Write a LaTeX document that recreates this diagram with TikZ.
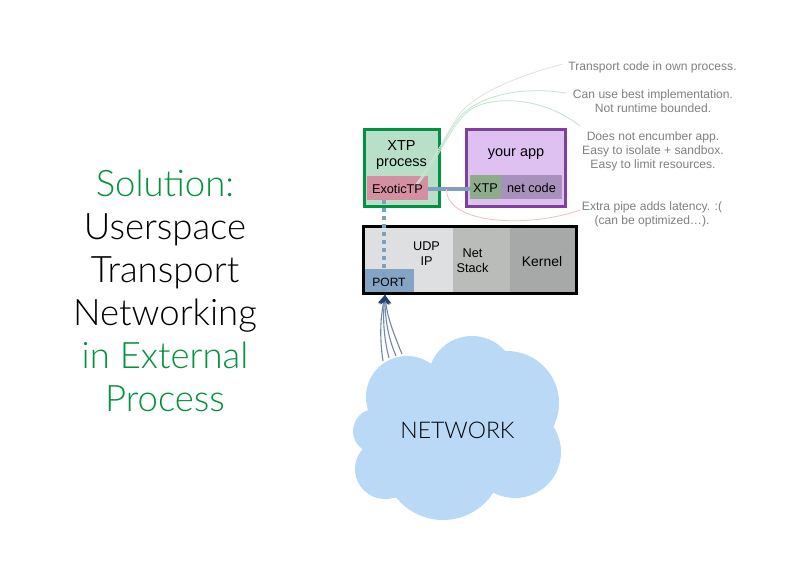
\documentclass[tikz,border=0pt]{standalone}
\usepackage{fontspec}
\setmainfont{Liberation Sans}
\newfontfamily\lightf{Lato}[UprightFont=* Light]
\usetikzlibrary{arrows.meta}
\definecolor{grn}{HTML}{00923F}
\definecolor{pur}{HTML}{7E3F9D}
\definecolor{cloudc}{HTML}{B9D9F7}
\definecolor{pipe}{HTML}{7F9FBF}
\definecolor{graytxt}{HTML}{808080}
\tikzset{x=1pt,y=-1pt,
  lbl/.style={inner sep=0,align=center,text=black,font=\fontsize{14.5}{16}\selectfont},
  sml/.style={inner sep=0,align=center,text=black,font=\fontsize{12.7}{15}\selectfont},
  note/.style={inner sep=0,align=center,text=graytxt,font=\fontsize{12.1}{14}\selectfont},
  head/.style={inner sep=0,align=center,font=\lightf\fontsize{36.5}{43}\selectfont},
  lead/.style={line width=.8pt},
}
\begin{document}
\begin{tikzpicture}
\useasboundingbox (0,0) rectangle (790,570);
\fill[white] (0,0) rectangle (790,570);
% heading
\node[head] (title) at (165,291) {\textcolor{grn}{Solution:}\\Userspace\\Transport\\Networking\\\textcolor{grn}{in External}\\\textcolor{grn}{Process}};
% cloud
\fill[cloudc] (407,397) circle (41) (472,380) circle (44) (507,403) circle (52)
 (515,452) circle (46) (443,460) circle (60) (385,469) circle (30) (375,431) circle (22)
 (432,363) -- (507,351) -- (551,427) -- (493,493) -- (393,498) -- (363,449) -- (370,408) -- cycle;
\node[inner sep=0,font=\lightf\fontsize{23}{26}\selectfont] (network) at (457.5,430.5) {NETWORK};
% xtp process
\draw[grn,line width=3pt,fill=grn!28!white] (364,129.5) rectangle (439.5,206.5);
\node[lbl] (xtpl) at (401.5,155) {XTP\\process};
\fill[fill={rgb,255:red,212;green,143;blue,162}] (367,176) rectangle (428,200);
\coordinate (etp) at (428,188.5);
\node[sml] (exotic) at (397.5,188.5) {ExoticTP};
% app
\draw[pur,line width=3pt,fill={rgb,255:red,222;green,193;blue,240}] (466.5,129.5) rectangle (565.5,206.5);
\node[lbl] (app) at (516,154.5) {your app};
\fill[fill={rgb,255:red,141;green,172;blue,140}] (470,175) rectangle (501,198.5);
\fill[fill={rgb,255:red,168;green,145;blue,186}] (501,175) rectangle (562,198.5);
\node[sml] (xtpin) at (485.5,188) {XTP};
\node[sml] (netcode) at (531.5,188) {net code};
\coordinate (xtpedge) at (470,188.5);
\draw[pipe,line width=4pt] (etp) -- (xtpedge);
% kernel
\fill[fill={rgb,255:red,222;green,223;blue,225}] (364,227) rectangle (453,293);
\fill[fill={rgb,255:red,186;green,188;blue,186}] (453,227) rectangle (510,293);
\fill[fill={rgb,255:red,166;green,169;blue,167}] (510,227) rectangle (576,293);
\fill[fill={rgb,255:red,131;green,164;blue,194}] (365,269) rectangle (413.5,293);
\draw[black,line width=3pt] (363.5,226) rectangle (576.5,293.5);
\node[sml] (udp) at (426.5,253.5) {UDP\\IP};
\node[sml] (net) at (472.5,261) {Net\\Stack};
\node[sml,font=\fontsize{13.9}{16}\selectfont] (kern) at (542,261.5) {Kernel};
% dotted pipe
\coordinate (dtop) at (384,200);
\coordinate (dbot) at (384,294);
\draw[pipe,line width=4pt,dash pattern=on 4pt off 4pt] (dtop) -- (dbot);
\node[sml,font=\fontsize{12}{14}\selectfont] (port) at (389,282) {PORT};
% network arrows
\coordinate (a1) at (383,361);
\coordinate (a2) at (389,358);
\coordinate (a3) at (396,356);
\coordinate (a4) at (402,354);
\coordinate (pt) at (385,295);
\tikzset{netarrow/.style={color={rgb,255:red,112;green,136;blue,168},line width=1.1pt,-{Stealth[length=9pt,width=11pt,color={rgb,255:red,36;green,66;blue,110}]}}}
\draw[netarrow] (a1) .. controls (379,335) and (381,315) .. (pt);
\draw[netarrow] (a2) .. controls (383,335) and (383,315) .. (pt);
\draw[netarrow] (a3) .. controls (387,335) and (385,315) .. (pt);
\draw[netarrow] (a4) .. controls (392,330) and (387,315) .. (pt);
% notes
\node[note] (n1) at (652.5,67) {Transport code in own process.};
\node[note] (n2) at (653,101.5) {Can use best implementation.\\Not runtime bounded.};
\node[note] (n3) at (653,151.5) {Does not encumber app.\\Easy to isolate + sandbox.\\Easy to limit resources.};
\node[note] (n4) at (652,214) {Extra pipe adds latency. :(\\(can be optimized…).};
\coordinate (c1) at (563,64);
\coordinate (c2) at (566,93);
\coordinate (c3) at (580,126);
\coordinate (c4) at (580,210);
\coordinate (s1) at (416,184);
\coordinate (s2) at (417,184);
\coordinate (s3) at (418,184);
\coordinate (s4) at (446.5,189);
\draw[lead,color={rgb,255:red,222;green,226;blue,222}] (s1) .. controls (435,160) and (450,125) .. (463,110) .. controls (480,92) and (520,75) .. (c1);
\draw[lead,color={rgb,255:red,190;green,230;blue,205}] (s2) .. controls (437,160) and (445,135) .. (460,117) .. controls (475,99) and (515,85) .. (c2);
\draw[lead,color={rgb,255:red,190;green,230;blue,205}] (s3) .. controls (440,158) and (450,125) .. (470,110) .. controls (490,96) and (540,95) .. (c3);
\draw[lead,color={rgb,255:red,243;green,190;blue,190}] (s4) .. controls (446,225) and (530,228) .. (c4);
\end{tikzpicture}
\end{document}
